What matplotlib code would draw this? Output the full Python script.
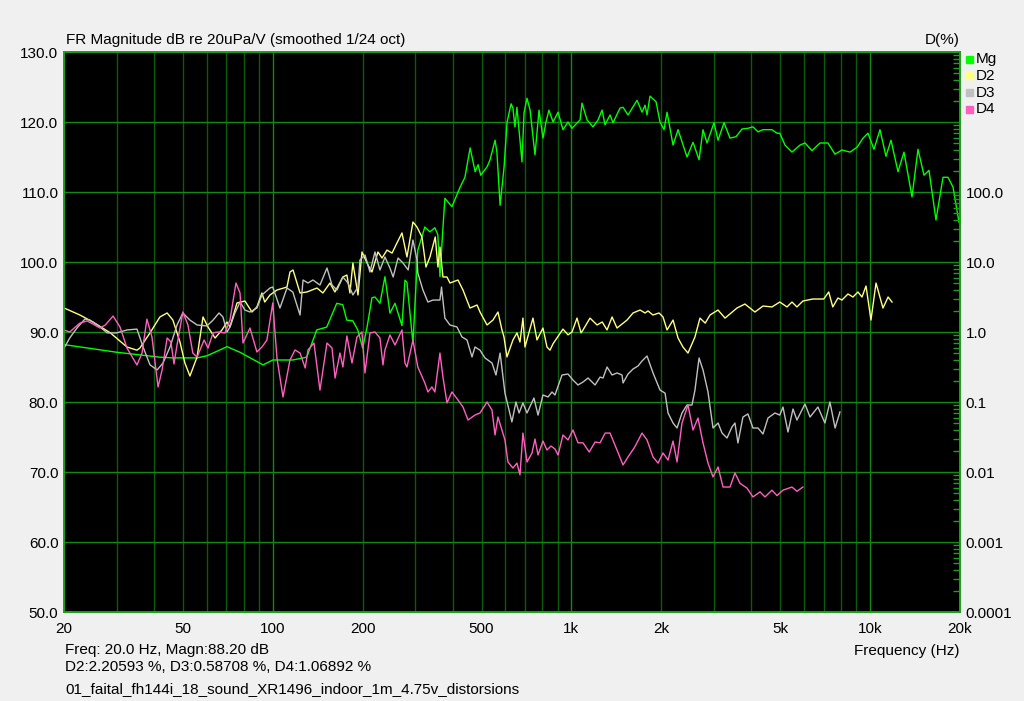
import matplotlib
matplotlib.use('Agg')
import matplotlib.pyplot as plt
from matplotlib.patches import Rectangle
from matplotlib.ticker import FixedLocator, LogLocator, NullFormatter
import numpy as np

plt.rcParams['font.family'] = ['Liberation Sans', 'DejaVu Sans']

# Magnitude trace (Hz, dB)
mg_freq = [20, 30.1, 41.9, 46.3, 55.8, 60.2, 70.3, 77.7, 92.8, 100, 116.7, 130, 140.4, 151.6, 163.8,
           171.5, 176.9, 185.3, 192.6, 200, 206.7, 214.9, 219.9, 228.5, 237.5, 246.8, 256.6, 270.8,
           277.1, 281.4, 294.7, 306, 323, 336, 349, 357, 363, 371, 377, 398, 424, 440, 458, 476, 487,
           497, 522, 534, 555, 563, 577, 595, 609, 628, 637, 647, 657, 683, 694, 710, 727, 755, 779,
           803, 822, 841, 868, 902, 937, 974, 1004, 1069, 1085, 1128, 1181, 1228, 1266, 1296, 1347,
           1378, 1455, 1489, 1547, 1658, 1724, 1764, 1791, 1833, 1920, 1980, 2042, 2090, 2189, 2275,
           2438, 2554, 2675, 2758, 2845, 3002, 3097, 3243, 3396, 3557, 3725, 3900, 4054, 4213, 4379,
           4693, 4878, 4985, 5189, 5476, 5825, 6054, 6389, 6796, 7228, 7629, 8052, 8564, 9046, 9474,
           9839, 10305, 10793, 11304, 11749, 12400, 12987, 13814, 14467, 15153, 15748, 16621, 17544,
           18233, 18950, 19848]
mg_db = [88.2, 87.1, 86.4, 86.3, 86.3, 86.6, 87.9, 87.1, 85.3, 86.0, 86.0, 86.4, 90.3, 90.7, 94.1,
         93.9, 91.7, 91.6, 90.3, 87.7, 90.6, 94.9, 95.0, 94.1, 97.9, 92.7, 94.1, 90.9,
         97.4, 97.1, 88.4, 101.7, 105.0, 104.3, 104.9, 103.9, 97.9, 104.6, 109.1, 107.9, 110.7, 112.1,
         116.3, 112.9, 113.9, 112.4, 113.6, 114.6, 117.4, 115.7, 108.1, 113.6, 120.0, 122.6, 122.0,
         119.3, 122.1, 114.3, 121.3, 123.4, 121.7, 115.3, 121.7, 117.7, 120.0, 121.7, 120.0, 121.4,
         118.9, 120.0, 119.1, 120.3, 122.7, 120.3, 119.3, 120.3, 121.7, 119.6, 121.0, 119.9, 122.0,
         122.1, 121.0, 123.1, 121.4, 122.4, 121.0, 123.7, 122.9, 120.0, 118.9, 121.4, 116.7, 118.9,
         115.0, 117.1, 114.6, 118.9, 117.0, 119.9, 117.4, 119.9, 117.7, 117.9, 119.0, 119.1, 119.3,
         118.6, 118.9, 118.9, 118.4, 118.4, 116.7, 115.7, 116.7, 117.0, 115.9, 117.0, 117.0, 115.4,
         116.0, 115.7, 116.4, 117.7, 118.4, 116.1, 118.9, 115.1, 117.4, 112.9, 115.7, 109.3, 116.1,
         112.4, 113.1, 106.0, 112.1, 112.1, 110.7, 105.7]

# 2nd harmonic distortion (Hz, %)
d2_freq = [20, 22.6, 25, 28.6, 32.5, 35.1, 35.9, 38.8, 41.9, 44.3, 46.3, 48.9, 50.8, 52.8, 55.8, 58.4,
           60.7, 64.1, 67.6, 70.3, 71.9, 75.9, 80.7, 85.2, 88.5, 92.0, 94.0, 97.9, 103.3, 111.6, 114.2,
           116.9, 123.4, 130.2, 140.6, 147.2, 155.4, 161.5, 171.7, 177.1, 181.3, 185.5, 192.9, 198.9,
           208.4, 214.9, 225, 232.2, 241.3, 250.8, 260.5, 270.8, 281.4, 294.7, 304, 315.9, 325.8, 336,
           350, 357.3, 362.9, 371.4, 383.1, 392, 417, 433.4, 457.5, 483, 494.3, 521.7, 546, 567.6,
           585.4, 594.5, 608.4, 637.2, 657, 672.5, 688.2, 699, 743.4, 766.8, 803, 828.2, 847.7, 868,
           936.8, 974, 1004.6, 1044, 1077, 1093.5, 1154, 1218.6, 1268, 1316, 1368, 1421, 1535, 1608,
           1698, 1763.5, 1804.6, 1874.6, 1965, 2026, 2090, 2189, 2275, 2363, 2456, 2592, 2694, 2805,
           2911, 3096, 3268, 3583, 3810, 4116, 4379, 4693, 4985, 5269, 5476, 5689, 5958, 6427, 6995,
           7270, 7500, 7805, 8050, 8431, 8763, 9104, 9394, 9691, 10069, 10467, 11044, 11489, 11844]
d2_pct = [2.206, 1.75, 1.39, 0.97, 0.61, 0.55, 0.59, 0.97, 1.64, 1.87, 1.48, 0.72, 0.36, 0.235, 0.44,
          1.64, 1.18, 0.82, 1.07, 1.39, 1.18, 2.6, 2.77, 1.93, 2.28, 3.61, 2.68, 3.38, 3.98, 4.39, 7.2,
          7.69, 3.61, 3.73, 4.25, 3.61, 5.01, 3.73, 6.11, 6.52, 3.61, 9.67, 3.38, 13.9,
          9.06, 7.2, 13.9, 11.4, 14.8, 13.4, 18.7, 26, 11.8, 37.3, 31.6, 22.8, 8.48, 11.8,
          22.8, 8.48, 16.4, 6.11, 6.11, 5.01, 5.53, 3.98, 2.2, 2.43, 1.93, 1.26, 1.48, 1.93,
          1.07, 0.85, 0.44, 0.77, 0.97, 0.72, 1.58, 0.61, 1.58, 0.77, 1.14, 0.61, 0.55, 0.68,
          1.10, 0.91, 1.0, 1.58, 0.97, 1.07, 1.58, 1.26, 1.39, 1.07, 1.64, 1.14, 1.48, 1.87,
          2.06, 1.87, 2.0, 1.75, 1.87, 1.64, 1.07, 1.48, 0.82, 0.61, 0.50, 0.85, 1.58, 1.34,
          1.75, 2.06, 1.58, 2.2, 2.51, 1.93, 2.35, 2.28, 2.68, 2.28, 2.68, 2.28, 2.77, 2.96, 2.96,
          3.73, 2.28, 3.06, 2.86, 3.49, 3.16, 3.73, 3.16, 4.54, 1.48, 5.01, 2.2, 3.16, 2.68]

# 3rd harmonic distortion (Hz, %)
d3_freq = [20, 20.9, 22.1, 23.5, 24.4, 26.4, 27.9, 30, 32.5, 35.1, 36.8, 38.8, 41.0, 42.9, 45.3, 47.8,
           50, 52.8, 55.8, 60.2, 63.1, 66.1, 68.1, 70.3, 71.9, 74.7, 77.7, 80.7, 83.9, 88.5, 92, 97.9,
           100, 105.7, 111.6, 116.7, 123.4, 126.3, 131.2, 136.3, 143.9, 151.9, 157.9, 164, 171.7,
           178.6, 185.5, 192.9, 195.9, 203.6, 211.6, 219.9, 228.5, 237.5, 246.8, 253, 262.7, 273, 284,
           294.7, 304, 306, 318.3, 330.8, 343.8, 362.9, 367.3, 377, 392, 413.8, 430, 447, 464.7, 475.5,
           494.3, 513.7, 542, 559, 577, 599, 632, 652, 668, 688, 710, 749, 773, 803, 835, 861, 881,
           930, 974, 1012, 1052, 1093.5, 1137, 1200, 1247, 1276, 1316, 1368, 1421, 1477, 1489, 1547,
           1608, 1671, 1723, 1791, 1876, 1980, 2058, 2106, 2189, 2257, 2345, 2437, 2533, 2592, 2675,
           2758, 2866, 2979, 3097, 3194, 3318, 3447, 3528, 3610, 3752, 3899, 4053, 4214, 4379, 4551,
           4803, 4985, 5109, 5310, 5519, 5689, 6051, 6294, 6688, 7059, 7337, 7635, 7926]
d3_pct = [0.587, 0.82, 1.14, 1.53, 1.48, 1.18, 0.97, 0.97, 1.07, 1.10, 0.61, 0.34, 0.287, 0.36, 0.61,
          1.26, 1.87, 1.48, 1.26, 1.22, 1.48, 1.87, 1.64, 1.0, 1.18, 1.87, 2.68, 2.06, 1.93, 2.2, 3.38,
          4.25, 4.39, 2.2, 4.25, 3.73, 1.75, 5.53, 5.01, 5.53, 4.69, 8.2, 4.69, 3.98, 6.11,
          5.01, 3.38, 4.39, 10.7, 12.6, 7.2, 13.9, 7.69, 11.8, 8.2, 6.11, 11.4, 9.67, 7.69,
          20.6, 10.7, 6.97, 3.98, 2.68, 2.86, 2.86, 4.39, 1.58, 1.26, 1.18, 0.85, 0.77, 0.44, 0.61,
          0.55, 0.425, 0.361, 0.243, 0.50, 0.134, 0.052, 0.10, 0.0697, 0.097, 0.0697, 0.114, 0.065,
          0.126, 0.118, 0.139, 0.126, 0.243, 0.251, 0.206, 0.175, 0.193, 0.22, 0.175, 0.227, 0.22,
          0.316, 0.243, 0.26, 0.243, 0.187, 0.251, 0.296, 0.327, 0.385, 0.454, 0.26, 0.148, 0.134,
          0.0697, 0.0501, 0.0425, 0.0697, 0.0905, 0.0905, 0.148, 0.425, 0.287, 0.139, 0.0425,
          0.0501, 0.036, 0.0306, 0.0439, 0.0501, 0.026, 0.061, 0.0675, 0.0425, 0.0425, 0.0349,
          0.059, 0.0697, 0.065, 0.0848, 0.0373, 0.0794, 0.0553, 0.0936, 0.061, 0.0848, 0.0501,
          0.10, 0.0425, 0.072]

# 4th harmonic distortion (Hz, %)
d4_freq = [20, 20.9, 22.6, 23.9, 25, 26.4, 27.5, 29.2, 30.8, 32.5, 35.1, 36.5, 37.9, 39.4, 41.3, 42.6,
           44.3, 45.6, 46.7, 47.8, 50, 52.0, 54.0, 55.8, 58.9, 60.7, 63.1, 65.6, 69.2, 71.9, 75.3,
           77.7, 79.5, 83.9, 88.5, 92, 95.6, 100, 103.3, 108.2, 114.2, 118.7, 123.4, 128.4, 131.2,
           137.4, 143.9, 151.9, 157.9, 161.7, 167.9, 171.7, 177.1, 184.2, 191.4, 198.9, 203.6, 211.6,
           219.9, 228.5, 233.9, 237.5, 246.8, 256.6, 270.8, 277.1, 281.4, 294.7, 306, 323, 330.8,
           341.1, 349, 362.9, 371.4, 383.1, 398, 417, 433.4, 450.6, 475.5, 494.3, 521.7, 542, 554.9,
           567.6, 599, 613, 637.2, 657, 672.5, 688.2, 710, 738, 755, 773, 803, 828, 854, 881, 902,
           937, 974, 1012, 1052, 1093.5, 1147, 1200, 1247, 1297, 1347, 1421, 1489, 1547, 1629, 1723,
           1791, 1876, 1950, 2026, 2106, 2189, 2257, 2345, 2456, 2553, 2653, 2758, 2866, 2979, 3097,
           3218, 3396, 3528, 3666, 3870, 4053, 4279, 4447, 4693, 4878, 5109, 5476, 5689, 5958]
d4_pct = [1.069, 1.0, 1.34, 1.44, 1.30, 1.14, 1.26, 1.69, 1.18, 0.59, 0.338, 0.50, 1.53, 0.848, 0.164,
          0.287, 0.821, 0.72, 0.349, 0.652, 1.93, 1.26, 0.50, 0.439, 0.768, 0.59, 0.968, 1.0, 0.968,
          1.48, 5.01, 3.61, 0.696, 1.14, 0.518, 0.61, 0.768, 2.6, 0.425, 0.118, 0.398, 0.553, 0.501,
          0.306, 0.553, 0.696, 0.148, 0.696, 0.59, 0.22, 0.501, 0.316, 0.877, 0.361, 0.848, 1.0,
          0.26, 0.968, 1.0, 0.821, 0.338, 0.553, 0.906, 0.652, 1.07, 0.361, 0.316, 0.768, 0.316,
          0.187, 0.139, 0.164, 0.139, 0.501, 0.227, 0.097, 0.139, 0.107, 0.0848, 0.0553, 0.0652,
          0.0697, 0.10, 0.0768, 0.0338, 0.061, 0.0287, 0.0139, 0.0114, 0.0134, 0.0091, 0.036,
          0.0139, 0.0187, 0.0296, 0.0175, 0.0277, 0.0206, 0.0235, 0.0213, 0.0175, 0.0338, 0.0287,
          0.0398, 0.0261, 0.0261, 0.0193, 0.0268, 0.0261, 0.036, 0.036, 0.0206, 0.0126, 0.0164,
          0.0227, 0.036, 0.0287, 0.0164, 0.0134, 0.0187, 0.0148, 0.0277, 0.0139, 0.0501, 0.0905,
          0.0398, 0.059, 0.0261, 0.0134, 0.0085, 0.0118, 0.0061, 0.0061, 0.0097, 0.0069, 0.0059,
          0.0044, 0.0052, 0.0044, 0.0055, 0.0046, 0.0055, 0.0061, 0.0053, 0.0061]

x_ticks = [20, 50, 100, 200, 500, 1000, 2000, 5000, 10000, 20000]
x_tick_labels = ['20', '50', '100', '200', '500', '1k', '2k', '5k', '10k', '20k']
db_ticks = [50, 60, 70, 80, 90, 100, 110, 120, 130]
pct_ticks = [0.0001, 0.001, 0.01, 0.1, 1.0, 10.0, 100.0]
pct_tick_labels = ['0.0001', '0.001', '0.01', '0.1', '1.0', '10.0', '100.0']

series = [('Mg', '#00ff00'), ('D2', '#ffff80'), ('D3', '#c0c0c0'), ('D4', '#ff60c0')]

W, H = 1024, 701
FS = 11
fig = plt.figure(figsize=(W / 100, H / 100), dpi=100, facecolor='#f0f0f0')
ax = fig.add_axes([64 / W, (H - 612) / H, 896 / W, 560 / H])
ax.set_facecolor('black')
ax.set_xscale('log')
ax.set_xlim(20, 20000)
ax.set_ylim(50, 130)

grid_major = '#128a12'
grid_minor = '#0c5a0c'

# vertical grid: decades brighter, the rest darker
for dec in [10, 100, 1000, 10000]:
    for m in range(1, 10):
        f = dec * m
        if 20 < f < 20000:
            ax.axvline(f, color=grid_major if m == 1 else grid_minor, lw=1, zorder=0)
for v in db_ticks[1:-1]:
    ax.axhline(v, color=grid_major, lw=1, zorder=0)

ax.set_xticks(x_ticks)
ax.set_xticklabels(x_tick_labels)
ax.xaxis.set_minor_locator(FixedLocator([]))
ax.set_yticks(db_ticks)
ax.set_yticklabels(['%.1f' % v for v in db_ticks])
ax.tick_params(axis='both', length=0, labelsize=FS, colors='black')
ax.tick_params(axis='x', pad=7)
ax.tick_params(axis='y', pad=4)
for s in ax.spines.values():
    s.set_color('#1aa01a')
    s.set_linewidth(1.2)

ax2 = ax.twinx()
ax2.set_yscale('log')
ax2.set_ylim(1e-4, 1e4)
ax2.set_yticks(pct_ticks)
ax2.set_yticklabels(pct_tick_labels)
ax2.yaxis.set_minor_locator(LogLocator(base=10, subs=np.arange(2, 10)))
ax2.yaxis.set_minor_formatter(NullFormatter())
ax2.tick_params(axis='y', which='major', length=0, labelsize=FS, pad=4)
ax2.tick_params(axis='y', which='minor', direction='in', length=5, color='#1aa01a', width=1)
for s in ax2.spines.values():
    s.set_color('#1aa01a')
    s.set_linewidth(1.2)

ax.plot(mg_freq, mg_db, color=series[0][1], lw=1.0, zorder=3)
ax2.plot(d2_freq, d2_pct, color=series[1][1], lw=1.0)
ax2.plot(d3_freq, d3_pct, color=series[2][1], lw=1.0)
ax2.plot(d4_freq, d4_pct, color=series[3][1], lw=1.0)

# header texts
fig.text(66 / W, 1 - 40 / H, 'FR Magnitude dB re 20uPa/V (smoothed 1/24 oct)', fontsize=FS,
         va='center', ha='left')
fig.text(960 / W, 1 - 40 / H, 'D(%)', fontsize=FS, va='center', ha='right')

# legend
for i, (name, col) in enumerate(series):
    yc = 59 + i * 16.8
    fig.add_artist(Rectangle((966 / W, 1 - (yc + 3.5) / H), 7 / W, 7 / H, color=col,
                             transform=fig.transFigure))
    fig.text(976 / W, 1 - yc / H, name, fontsize=FS, va='center', ha='left')

# footer texts
fig.text(907 / W, 1 - 651 / H, 'Frequency (Hz)', fontsize=FS, va='center', ha='center')
fig.text(65 / W, 1 - 650 / H, 'Freq: 20.0 Hz, Magn:88.20 dB', fontsize=FS, va='center')
fig.text(65 / W, 1 - 667 / H, 'D2:2.20593 %, D3:0.58708 %, D4:1.06892 %', fontsize=FS, va='center')
fig.text(65 / W, 1 - 689 / H, '01_faital_fh144i_18_sound_XR1496_indoor_1m_4.75v_distorsions',
         fontsize=FS, va='center')

fig.savefig('out.png', dpi=100, facecolor=fig.get_facecolor())
